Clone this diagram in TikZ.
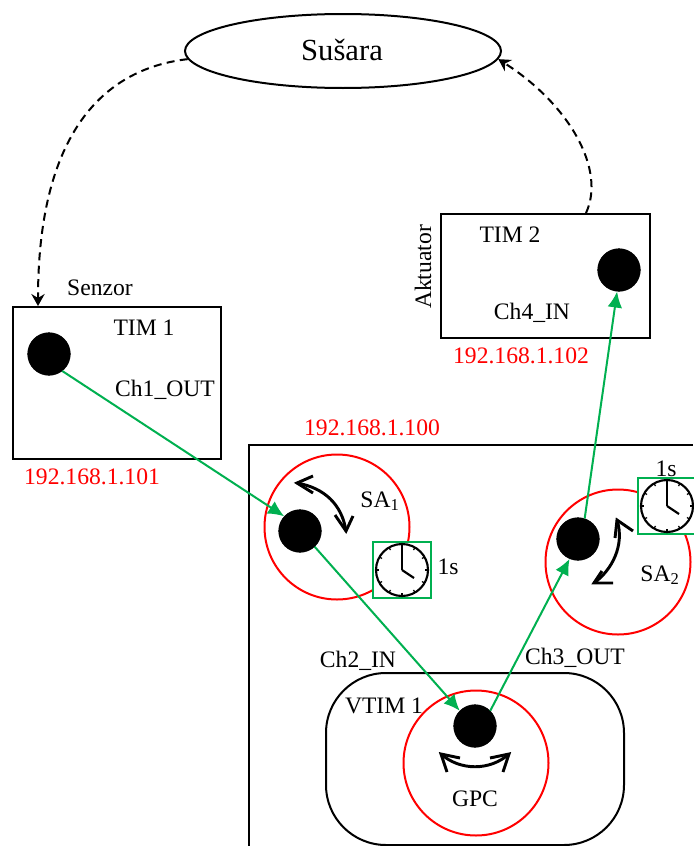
\documentclass[tikz,border=0pt]{standalone}
\usepackage{fontspec}
\setmainfont{Liberation Serif}
\usetikzlibrary{arrows.meta,shapes.geometric}
\definecolor{grn}{RGB}{0,176,80}
\tikzset{
 x=0.75pt,y=-0.75pt,
 lbl/.style={font=\fontsize{17.7}{21}\selectfont,inner sep=0pt,text=black},
 ip/.style={lbl,text=red},
 dot/.style={circle,fill=black,draw=black,minimum size=32pt,inner sep=0pt},
 ring/.style={circle,draw=red,line width=1.5pt,inner sep=0pt},
 box/.style={draw=black,line width=1.5pt,inner sep=0pt},
 flow/.style={draw=grn,line width=1.5pt,-{Latex[length=12pt,width=11pt]}},
 feedback/.style={draw=black,line width=1.5pt,dash pattern=on 6pt off 4pt,-{Stealth[length=9pt,width=10pt,inset=3pt]}},
 turn/.style={draw=black,line width=2.2pt,miter limit=10},
 clockbox/.style={draw=grn,line width=1.5pt,minimum width=43.5pt,minimum height=42pt,inner sep=0pt},
}
\newcommand{\clockface}[2]{%
 \begin{scope}[shift={(#1,#2)}]
  \draw[line width=1.6pt] (0,0) circle (26);
  \foreach \a in {0,30,...,330}{\draw[line width=0.9pt] (\a:26) -- (\a:23);}
  \draw[line width=1.6pt] (0,0) -- (0,-25);
  \draw[line width=1.6pt] (0,0) -- (12,8);
 \end{scope}}
\begin{document}
\begin{tikzpicture}
\useasboundingbox (0,0) rectangle (693,846);
\fill[white] (0,0) rectangle (693,846);
% containers
\draw[line width=1.5pt] (249,846) -- (249,445) -- (693,445);
\node[box,ellipse,minimum width=237pt,minimum height=55.5pt] (plant) at (343,51) {};
\node[lbl,font=\fontsize{23}{27}\selectfont] (plantl) at (342,50) {Sušara};
\node[box,minimum width=156pt,minimum height=114pt] (tim1) at (117,383) {};
\node[box,minimum width=156.75pt,minimum height=93pt] (tim2) at (545.5,275.5) {};
\node[box,rounded corners=45pt,minimum width=223.5pt,minimum height=129pt] (vtim) at (475,759) {};
\node[ring,minimum size=108.75pt] (sa1) at (337,527) {};
\node[ring,minimum size=108.75pt] (sa2) at (618,562) {};
\node[ring,minimum size=108.75pt] (gpc) at (476,763) {};
\node[dot] (d1) at (49,354) {};
\node[dot] (d2) at (619,270) {};
\node[dot] (d3) at (300,531) {};
\node[dot] (d4) at (578,539) {};
\node[dot] (d5) at (475,726) {};
% clocks
\node[clockbox,fill=white] (c1) at (402,570) {};
\clockface{402}{570}
\node[clockbox,fill=white] (c2) at (667,506) {};
\clockface{667}{506}
% connectors
\draw[flow] (d1.-52) -- (d3.137);
\draw[flow] (d3.-47) -- (d5.135);
\draw[flow] (d5.45) -- (d4.247);
\draw[flow] (d4.72) -- (d2.265);
\coordinate (fb1) at (38,306);
\coordinate (fb2) at (586,213);
\draw[feedback] (plant.183.5) .. controls (110,68) and (38,125) .. (fb1);
\draw[feedback] (fb2) .. controls (606,170) and (570,105) .. (plant.-3.5);
% turning arrows
\coordinate (t1a) at (297,483); \coordinate (t1b) at (346,531);
\draw[turn] (t1a) .. controls (325,488) and (342,505) .. (t1b);
\draw[turn] (313,476) -- (t1a) -- (313,493);
\draw[turn] (335,515) -- (t1b) -- (353,516);
\coordinate (t2a) at (617,520); \coordinate (t2b) at (594,583);
\draw[turn] (t2a) .. controls (625,545) and (612,570) .. (t2b);
\draw[turn] (615,538) -- (t2a) -- (633,531);
\draw[turn] (602,571) -- (t2b) -- (613,583);
\coordinate (t3a) at (441,754); \coordinate (t3b) at (509,754);
\draw[turn] (t3a) .. controls (460,771) and (490,771) .. (t3b);
\draw[turn] (447,772) -- (t3a) -- (460,758);
\draw[turn] (503,772) -- (t3b) -- (490,758);
% labels
\node[lbl] at (100,288) {Senzor};
\node[lbl] at (144,328) {TIM 1};
\node[lbl] at (165,390) {Ch1\_OUT};
\node[ip] at (92,477) {192.168.1.101};
\node[lbl] at (510,235) {TIM 2};
\node[lbl] at (532,313) {Ch4\_IN};
\node[lbl,rotate=90] at (423,267) {Aktuator};
\node[ip] at (521,356) {192.168.1.102};
\node[ip] at (372,428) {192.168.1.100};
\node[lbl] at (380,501) {SA\textsubscript{1}};
\node[lbl] at (448,567) {1s};
\node[lbl] at (666,469) {1s};
\node[lbl] at (660,575) {SA\textsubscript{2}};
\node[lbl] at (358,661) {Ch2\_IN};
\node[lbl] at (575,658) {Ch3\_OUT};
\node[lbl] at (384,706) {VTIM 1};
\node[lbl] at (475,799) {GPC};
\end{tikzpicture}
\end{document}
